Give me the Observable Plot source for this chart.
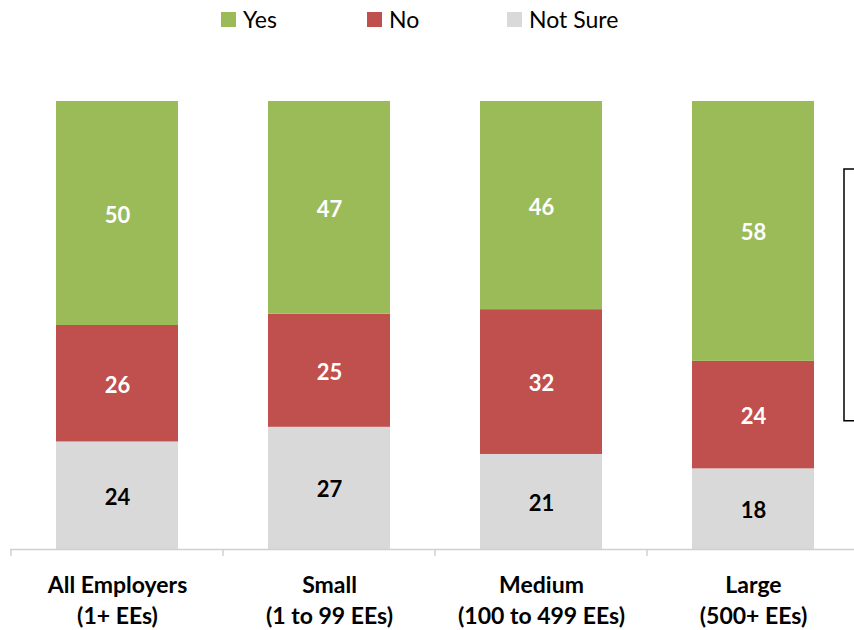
<!DOCTYPE html>
<html>
<head>
<meta charset="utf-8">
<script src="https://cdn.jsdelivr.net/npm/d3@7"></script>
<script src="https://cdn.jsdelivr.net/npm/@observablehq/plot@0.6"></script>
<style>
  html, body { margin: 0; padding: 0; background: #fff; }
  #wrap { position: relative; width: 854px; height: 630px; font-family: Lato, "Open Sans", sans-serif; }
  #legend { position: absolute; top: 0; left: 0; width: 854px; height: 40px; }
  .item { position: absolute; top: 5px; display: flex; align-items: center; font-size: 23px; color: #000; }
  .sw { width: 15px; height: 15px; margin-right: 7px; }
</style>
</head>
<body>
<div id="wrap"><div id="legend"></div></div>
<script>
const categories = ["All Employers", "Small", "Medium", "Large"];
const subLabels = ["(1+ EEs)", "(1 to 99 EEs)", "(100 to 499 EEs)", "(500+ EEs)"];
const series = ["Yes", "No", "Not Sure"];
const seriesColors = ["#9bbb59", "#c0504d", "#d9d9d9"];
const labelColors = ["#ffffff", "#ffffff", "#000000"];
const yesValues = [50, 47, 46, 58];
const noValues = [26, 25, 32, 24];
const notSureValues = [24, 27, 21, 18];
const bracketRange = [0.286, 0.848];

const valuesBySeries = { "Yes": yesValues, "No": noValues, "Not Sure": notSureValues };
const stackOrder = ["Not Sure", "No", "Yes"];
const data = [];
categories.forEach((c, i) => {
  stackOrder.forEach(s => {
    const k = series.indexOf(s);
    data.push({ cat: c, series: s, value: valuesBySeries[s][i], color: seriesColors[k], labelColor: labelColors[k] });
  });
});

const chart = Plot.plot({
  width: 854,
  height: 630,
  marginTop: 101,
  marginBottom: 81,
  marginLeft: 10,
  marginRight: 0,
  style: { fontFamily: "Lato, 'Open Sans', sans-serif", background: "transparent" },
  x: { domain: categories, range: [10, 860], paddingInner: 0.426, paddingOuter: 0.213, axis: null },
  y: { domain: [0, 1], axis: null },
  color: { type: "identity" },
  marks: [
    Plot.barY(data, Plot.stackY({ x: "cat", y: "value", z: "series", fill: "color", offset: "normalize" })),
    Plot.text(data, Plot.stackY({ x: "cat", y: "value", z: "series", text: "value", fill: "labelColor", offset: "normalize", fontSize: 22, fontWeight: "bold", dy: 2 })),
    Plot.ruleY([0], { stroke: "#d0d0d0", strokeWidth: 1.5 }),
    Plot.text(categories, { x: d => d, frameAnchor: "bottom", dy: 21, lineAnchor: "top", lineHeight: 1.36, text: (d, i) => d + "\n" + subLabels[i], fontSize: 23, fontWeight: "bold", fill: "#000" })
  ]
});

document.getElementById("wrap").appendChild(chart);
const svg = d3.select(chart);
svg.style("position", "absolute").style("top", "0px").style("left", "0px");
const xs = chart.scale("x"), ys = chart.scale("y");
const gap = (xs.step - xs.bandwidth) / 2;
const y0 = ys.apply(0);
const g = svg.append("g").attr("stroke", "#d0d0d0").attr("stroke-width", 1.5);
categories.forEach(c => {
  const bx = xs.apply(c) - gap;
  g.append("line").attr("x1", bx).attr("x2", bx).attr("y1", y0).attr("y2", y0 + 7);
});
// bracket annotation at the right edge
const bx = xs.apply(categories[categories.length - 1]) + xs.bandwidth + 30;
const yb1 = ys.apply(bracketRange[1]), yb2 = ys.apply(bracketRange[0]);
svg.append("path")
  .attr("d", `M${bx + 12},${yb1}H${bx}V${yb2}H${bx + 12}`)
  .attr("fill", "none").attr("stroke", "#000").attr("stroke-width", 1.5);

// legend
const legendX = [221, 367, 507];
const legend = document.getElementById("legend");
series.forEach((s, i) => {
  const it = document.createElement("div");
  it.className = "item";
  it.style.left = legendX[i] + "px";
  const sw = document.createElement("div");
  sw.className = "sw";
  sw.style.background = seriesColors[i];
  const t = document.createElement("span");
  t.textContent = s;
  it.appendChild(sw); it.appendChild(t);
  legend.appendChild(it);
});
</script>
</body>
</html>
